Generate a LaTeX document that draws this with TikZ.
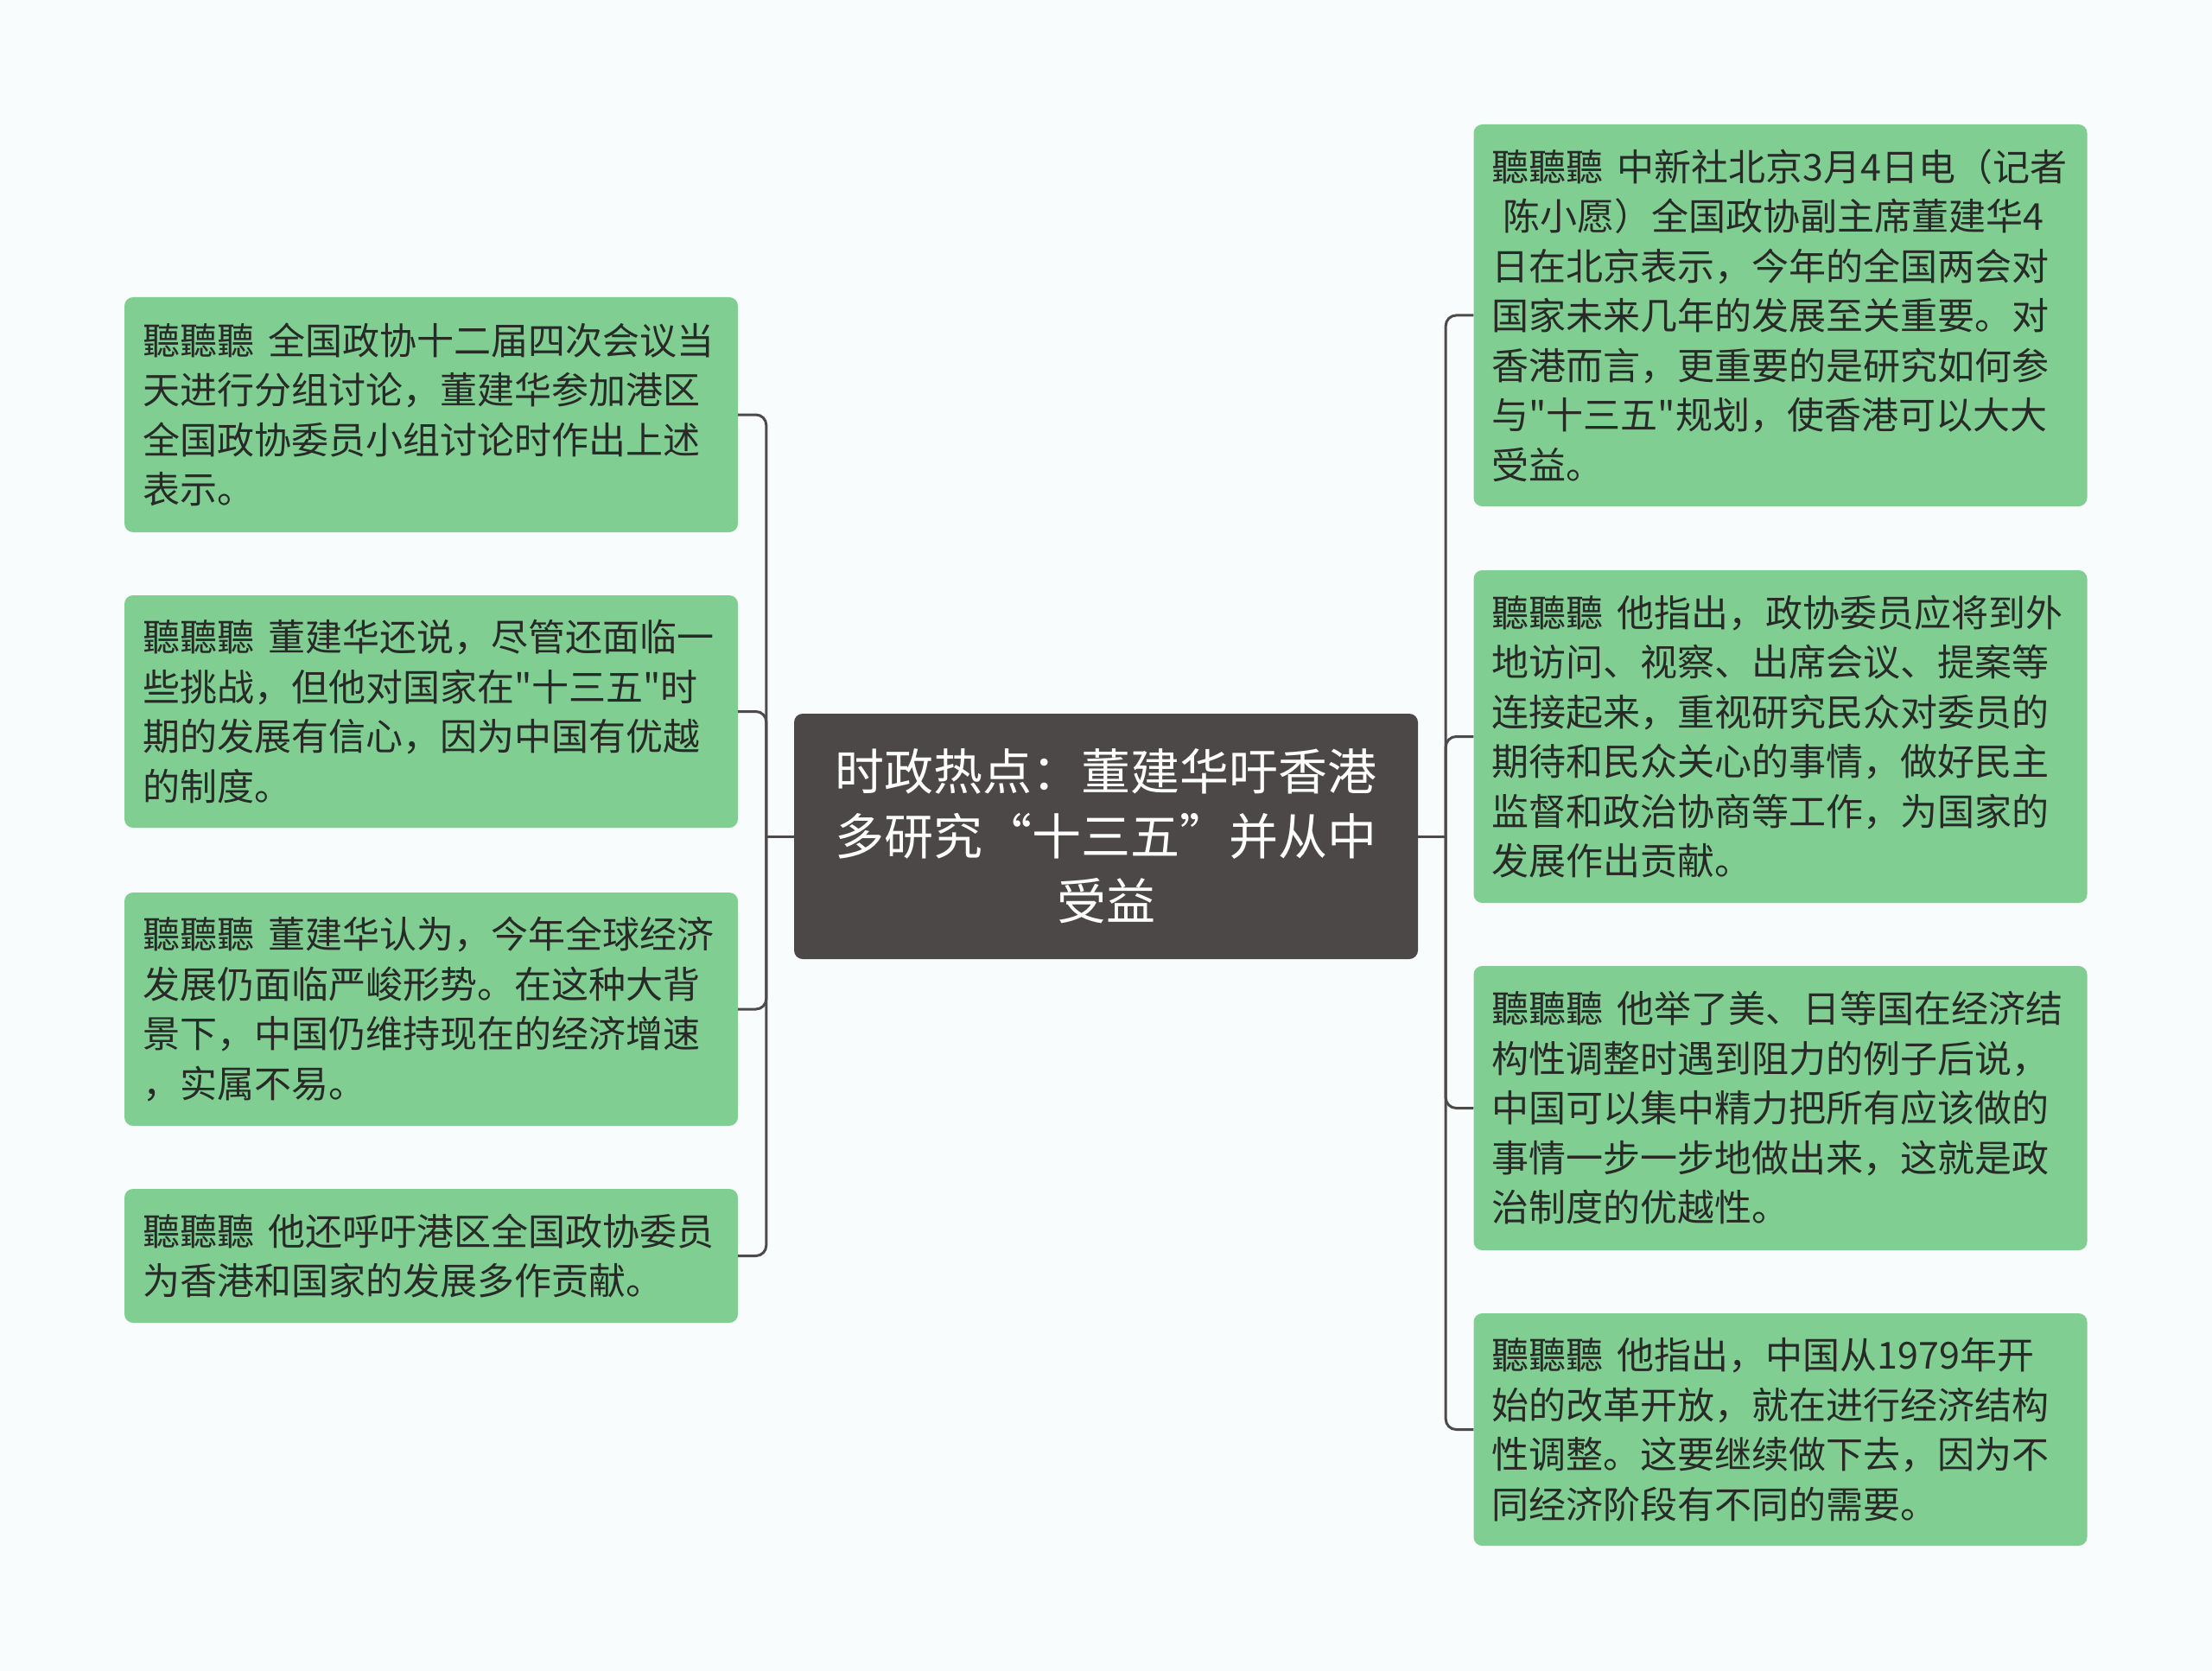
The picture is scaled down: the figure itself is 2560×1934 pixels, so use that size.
\documentclass[tikz,border=0pt]{standalone}
\usepackage{fontspec}
\newfontfamily\cjk{Noto Sans CJK SC}
\definecolor{leafgreen}{RGB}{128, 206, 146}
\definecolor{rootgray}{RGB}{77, 72, 72}
\definecolor{linkgray}{RGB}{78, 74, 74}
\definecolor{paper}{RGB}{248, 252, 253}
\definecolor{inkdark}{RGB}{40, 42, 40}
\newcommand{\tingting}{聽聽聽\hspace{0.38em}}

\begin{document}
\begin{tikzpicture}[
  x=1pt, y=-1pt,
  leaf/.style={rounded corners=10pt, fill=leafgreen, text=inkdark, text width=668pt, inner xsep=21pt, inner ysep=0pt, align=left, font=\cjk\fontsize{43}{57.5}\selectfont},
  root/.style={rounded corners=10pt, fill=rootgray, text=white, text width=680pt, inner xsep=21pt, minimum height=284pt, align=center, font=\cjk\fontsize{57}{75}\selectfont},
  link/.style={draw=linkgray, line width=3pt, rounded corners=12pt},
]
% Canvas
\useasboundingbox (0,0) rectangle (2560,1934);
\fill[paper] (0,0) rectangle (2560,1934);

% Root topic
\node[root] (root) at (1280, 968) {时政热点：董建华吁香港\\多研究“十三五”并从中\\受益};

% Left branches
\node[leaf, minimum height=272pt] (l1) at (499, 480) {\tingting 全国政协十二届四次会议当\\天进行分组讨论，董建华参加港区\\全国政协委员小组讨论时作出上述\\表示。};
\node[leaf, minimum height=269pt] (l2) at (499, 823.5) {\tingting 董建华还说，尽管还面临一\\些挑战，但他对国家在"十三五"时\\期的发展有信心，因为中国有优越\\的制度。};
\node[leaf, minimum height=270pt] (l3) at (499, 1168) {\tingting 董建华认为，今年全球经济\\发展仍面临严峻形势。在这种大背\\景下，中国仍维持现在的经济增速\\，实属不易。};
\node[leaf, minimum height=155pt] (l4) at (499, 1453.5) {\tingting 他还呼吁港区全国政协委员\\为香港和国家的发展多作贡献。};

% Right branches
\node[leaf, minimum height=442pt] (r1) at (2060.5, 365) {\tingting 中新社北京3月4日电（记者\\\hspace*{0.3em}陈小愿）全国政协副主席董建华4\\日在北京表示，今年的全国两会对\\国家未来几年的发展至关重要。对\\香港而言，更重要的是研究如何参\\与"十三五"规划，使香港可以大大\\受益。};
\node[leaf, minimum height=385pt] (r2) at (2060.5, 852.5) {\tingting 他指出，政协委员应将到外\\地访问、视察、出席会议、提案等\\连接起来，重视研究民众对委员的\\期待和民众关心的事情，做好民主\\监督和政治协商等工作，为国家的\\发展作出贡献。};
\node[leaf, minimum height=329pt] (r3) at (2060.5, 1282.5) {\tingting 他举了美、日等国在经济结\\构性调整时遇到阻力的例子后说，\\中国可以集中精力把所有应该做的\\事情一步一步地做出来，这就是政\\治制度的优越性。};
\node[leaf, minimum height=269pt] (r4) at (2060.5, 1654.5) {\tingting 他指出，中国从1979年开\\始的改革开放，就在进行经济结构\\性调整。这要继续做下去，因为不\\同经济阶段有不同的需要。};

% Connectors
\coordinate (lfork) at ([xshift=-32pt]root.west);
\coordinate (rfork) at ([xshift=32pt]root.east);
\draw[link] (root.west) -- (lfork);
\draw[link] (lfork) |- (l1.east);
\draw[link] (lfork) |- (l2.east);
\draw[link] (lfork) |- (l3.east);
\draw[link] (lfork) |- (l4.east);
\draw[link] (root.east) -- (rfork);
\draw[link] (rfork) |- (r1.west);
\draw[link] (rfork) |- (r2.west);
\draw[link] (rfork) |- (r3.west);
\draw[link] (rfork) |- (r4.west);
\end{tikzpicture}
\end{document}
